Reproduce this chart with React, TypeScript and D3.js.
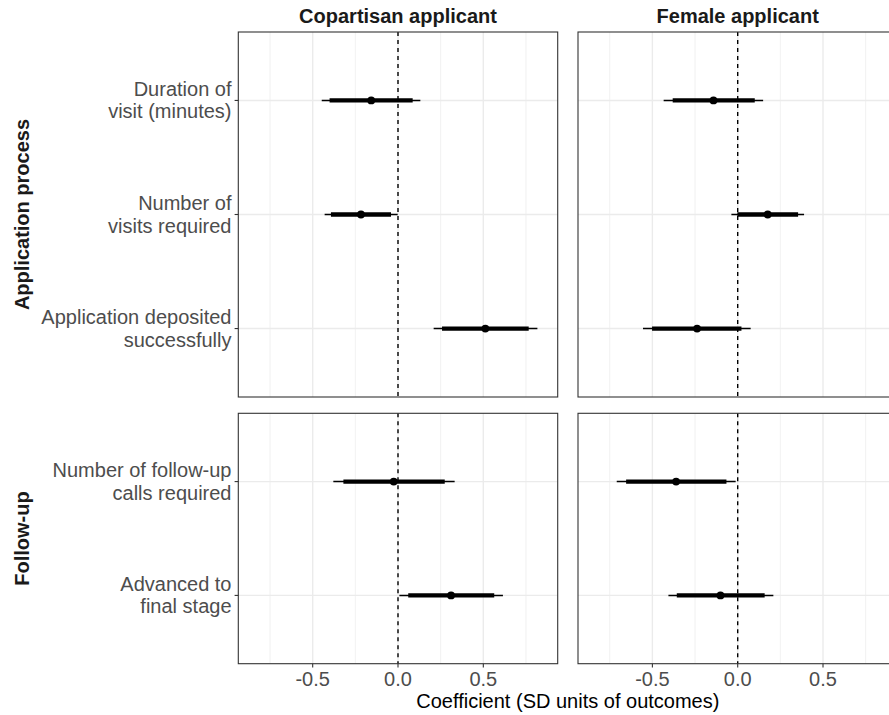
import { useEffect, useRef } from "react";
import * as d3 from "d3";

// facets
const treatments = ["Copartisan applicant", "Female applicant"];
const groups = ["Application process", "Follow-up"];

// outcomes per row group (line breaks as in the original labels)
const processOutcomes = [
  "Duration of\nvisit (minutes)",
  "Number of\nvisits required",
  "Application deposited\nsuccessfully",
];
const followupOutcomes = [
  "Number of follow-up\ncalls required",
  "Advanced to\nfinal stage",
];

// estimates, order: process outcomes then follow-up outcomes
const copartisanEst = [-0.157, -0.217, 0.512, -0.025, 0.311];
const copartisanLo95 = [-0.447, -0.43, 0.209, -0.379, 0.008];
const copartisanHi95 = [0.131, -0.002, 0.817, 0.332, 0.615];
const copartisanLo90 = [-0.401, -0.393, 0.258, -0.32, 0.06];
const copartisanHi90 = [0.086, -0.041, 0.766, 0.274, 0.564];

const femaleEst = [-0.142, 0.176, -0.238, -0.361, -0.101];
const femaleLo95 = [-0.434, -0.037, -0.555, -0.709, -0.406];
const femaleHi95 = [0.149, 0.389, 0.076, -0.012, 0.209];
const femaleLo90 = [-0.381, -0.002, -0.502, -0.654, -0.357];
const femaleHi90 = [0.1, 0.354, 0.022, -0.066, 0.158];

const xTicks = [-0.5, 0, 0.5];
const xMinor = [-0.75, -0.25, 0.25, 0.75];

const FONT = "'Liberation Sans', Arial, Helvetica, sans-serif";

export default function App() {
  const svgRef = useRef(null);

  useEffect(() => {
    const svg = d3.select(svgRef.current);
    svg.selectAll("*").remove();

    const width = 889;
    const height = 715;

    const colX = [238.3, 578];
    const panelW = 319.4;
    const rowY = [
      [32, 397],
      [413.3, 663.7],
    ];
    const rowOutcomes = [processOutcomes, followupOutcomes];

    const series = [
      {
        est: copartisanEst,
        lo95: copartisanLo95,
        hi95: copartisanHi95,
        lo90: copartisanLo90,
        hi90: copartisanHi90,
      },
      {
        est: femaleEst,
        lo95: femaleLo95,
        hi95: femaleHi95,
        lo90: femaleLo90,
        hi90: femaleHi90,
      },
    ];

    svg.attr("width", width).attr("height", height).style("font-family", FONT);

    treatments.forEach((treat, c) => {
      const x = d3
        .scaleLinear()
        .domain([-0.936, 0.936])
        .range([colX[c], colX[c] + panelW]);

      // strip title
      svg
        .append("text")
        .attr("x", x(0))
        .attr("y", 23)
        .attr("text-anchor", "middle")
        .attr("font-size", 20)
        .attr("font-weight", "bold")
        .attr("fill", "#1a1a1a")
        .text(treat);

      groups.forEach((grp, r) => {
        const labels = rowOutcomes[r];
        const offset = r === 0 ? 0 : processOutcomes.length;
        const [y0, y1] = rowY[r];
        const y = d3.scalePoint().domain(labels).range([y0, y1]).padding(0.6);

        const g = svg.append("g");

        g.append("rect")
          .attr("x", colX[c])
          .attr("y", y0)
          .attr("width", panelW)
          .attr("height", y1 - y0)
          .attr("fill", "white");

        g.selectAll("line.minor")
          .data(xMinor)
          .enter()
          .append("line")
          .attr("x1", (d) => x(d))
          .attr("x2", (d) => x(d))
          .attr("y1", y0)
          .attr("y2", y1)
          .attr("stroke", "#ebebeb")
          .attr("stroke-width", 0.7);

        g.selectAll("line.major")
          .data(xTicks)
          .enter()
          .append("line")
          .attr("x1", (d) => x(d))
          .attr("x2", (d) => x(d))
          .attr("y1", y0)
          .attr("y2", y1)
          .attr("stroke", "#ebebeb")
          .attr("stroke-width", 1.4);

        g.selectAll("line.ygrid")
          .data(labels)
          .enter()
          .append("line")
          .attr("x1", colX[c])
          .attr("x2", colX[c] + panelW)
          .attr("y1", (d) => y(d))
          .attr("y2", (d) => y(d))
          .attr("stroke", "#ebebeb")
          .attr("stroke-width", 1.4);

        // reference line at zero
        g.append("line")
          .attr("x1", x(0))
          .attr("x2", x(0))
          .attr("y1", y0)
          .attr("y2", y1)
          .attr("stroke", "black")
          .attr("stroke-width", 1.4)
          .attr("stroke-dasharray", "4,4");

        const s = series[c];
        const rows = labels.map((lab, i) => ({
          lab,
          est: s.est[offset + i],
          lo95: s.lo95[offset + i],
          hi95: s.hi95[offset + i],
          lo90: s.lo90[offset + i],
          hi90: s.hi90[offset + i],
        }));

        g.selectAll("line.ci95")
          .data(rows)
          .enter()
          .append("line")
          .attr("x1", (d) => x(d.lo95))
          .attr("x2", (d) => x(d.hi95))
          .attr("y1", (d) => y(d.lab))
          .attr("y2", (d) => y(d.lab))
          .attr("stroke", "black")
          .attr("stroke-width", 1.5);

        g.selectAll("line.ci90")
          .data(rows)
          .enter()
          .append("line")
          .attr("x1", (d) => x(d.lo90))
          .attr("x2", (d) => x(d.hi90))
          .attr("y1", (d) => y(d.lab))
          .attr("y2", (d) => y(d.lab))
          .attr("stroke", "black")
          .attr("stroke-width", 4.3);

        g.selectAll("circle")
          .data(rows)
          .enter()
          .append("circle")
          .attr("cx", (d) => x(d.est))
          .attr("cy", (d) => y(d.lab))
          .attr("r", 3.9)
          .attr("fill", "black");

        g.append("rect")
          .attr("x", colX[c])
          .attr("y", y0)
          .attr("width", panelW)
          .attr("height", y1 - y0)
          .attr("fill", "none")
          .attr("stroke", "#333333")
          .attr("stroke-width", 1.1);

        // y axis labels on left column
        if (c === 0) {
          labels.forEach((lab) => {
            const yy = y(lab);
            g.append("line")
              .attr("x1", colX[0] - 3.7)
              .attr("x2", colX[0])
              .attr("y1", yy)
              .attr("y2", yy)
              .attr("stroke", "#333333")
              .attr("stroke-width", 1.1);
            const lines = lab.split("\n");
            const t = g
              .append("text")
              .attr("text-anchor", "end")
              .attr("font-size", 20)
              .attr("fill", "#4d4d4d");
            lines.forEach((ln, k) => {
              t.append("tspan")
                .attr("x", 231.5)
                .attr("y", yy - 4.5 + k * 22.5)
                .text(ln);
            });
          });

          svg
            .append("text")
            .attr(
              "transform",
              `translate(28.5, ${(y0 + y1) / 2}) rotate(-90)`
            )
            .attr("text-anchor", "middle")
            .attr("font-size", 20)
            .attr("font-weight", "bold")
            .attr("fill", "#1a1a1a")
            .text(grp);
        }

        // x axis on bottom row
        if (r === groups.length - 1) {
          xTicks.forEach((tk) => {
            g.append("line")
              .attr("x1", x(tk))
              .attr("x2", x(tk))
              .attr("y1", y1)
              .attr("y2", y1 + 3.7)
              .attr("stroke", "#333333")
              .attr("stroke-width", 1.1);
            g.append("text")
              .attr("x", x(tk))
              .attr("y", 685.8)
              .attr("text-anchor", "middle")
              .attr("font-size", 20)
              .attr("fill", "#4d4d4d")
              .text(d3.format(".1f")(tk).replace("−", "-"));
          });
        }
      });
    });

    svg
      .append("text")
      .attr("x", (colX[0] + colX[1] + panelW) / 2)
      .attr("y", 707.5)
      .attr("text-anchor", "middle")
      .attr("font-size", 20)
      .attr("fill", "black")
      .text("Coefficient (SD units of outcomes)");
  }, []);

  return (
    <div style={{ position: "absolute", left: 0, top: 0, background: "white" }}>
      <svg ref={svgRef} style={{ display: "block" }}></svg>
    </div>
  );
}
